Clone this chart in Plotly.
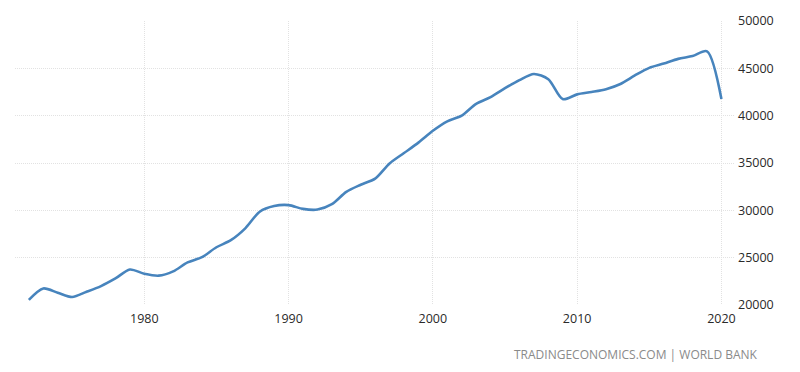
import plotly.graph_objects as go

years = list(range(1972, 2021))
values = [
    20550, 21750, 21300, 20850, 21400, 22000, 22800, 23750, 23300, 23100,
    23550, 24500, 25050, 26100, 26850, 28100, 29850, 30450, 30550, 30150,
    30080, 30650, 31950, 32700, 33350, 34950, 36050, 37150, 38400, 39400,
    40000, 41250, 41950, 42900, 43750, 44400, 43850, 41750, 42250, 42500,
    42800, 43350, 44250, 45050, 45500, 46000, 46300, 46800, 41750,
]
x_ticks = [1980, 1990, 2000, 2010, 2020]
y_ticks = [20000, 25000, 30000, 35000, 40000, 45000, 50000]
source_text = "TRADINGECONOMICS.COM | WORLD BANK"

fig = go.Figure()
fig.add_trace(go.Scatter(
    x=years, y=values, mode="lines",
    line=dict(color="#4784bd", width=2.6, shape="spline", smoothing=0.8),
    hoverinfo="x+y", showlegend=False,
))

grid = dict(showgrid=True, gridcolor="#e2e2e2", griddash="1px,1px", gridwidth=1,
            zeroline=False, showline=False, ticks="")
fig.update_layout(
    width=800, height=372,
    margin=dict(l=15, r=65, t=16, b=67),
    paper_bgcolor="white", plot_bgcolor="white",
    font=dict(family="Open Sans, DejaVu Sans, sans-serif", size=12, color="#2a2a2a"),
    xaxis=dict(range=[1971.04, 2020.94], tickvals=x_ticks,
               ticktext=[str(v) for v in x_ticks], tickfont=dict(size=12.5),
               ticklabelstandoff=4, **grid),
    yaxis=dict(range=[20000, 50000], tickvals=y_ticks,
               ticktext=[str(v) for v in y_ticks], side="right",
               tickfont=dict(size=12.5), ticklabelstandoff=2, **grid),
)
fig.add_annotation(
    text=source_text, xref="paper", yref="paper",
    x=(760 - 15) / 720, y=(305 - 355) / 289, xanchor="right", yanchor="middle",
    showarrow=False, font=dict(size=12, color="#8a8a8a"),
)
fig.write_html("out.html", config={"displayModeBar": False},
               post_script="document.body.style.margin='0';document.body.style.overflow='hidden';")
